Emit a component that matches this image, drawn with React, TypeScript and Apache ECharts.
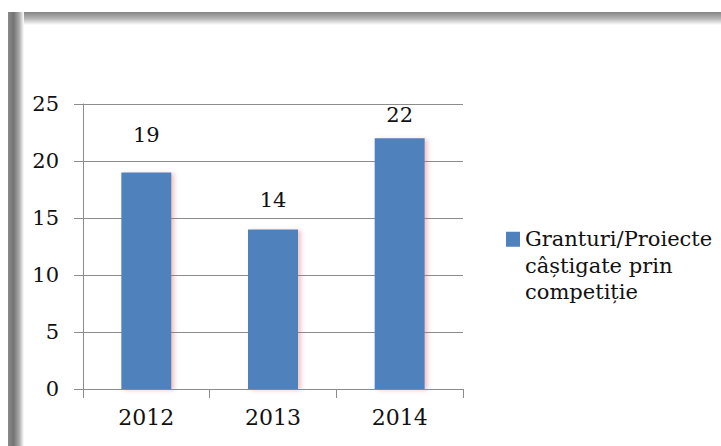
import React, { useEffect, useRef } from "react";
import * as echarts from "echarts";

const categories = ["2012", "2013", "2014"];
const seriesName = "Granturi/Proiecte\ncâștigate prin\ncompetiție";
const values = [19, 14, 22];
const labelDistances = [27, 19, 13];

const FONT = "'DejaVu Serif', serif";

export default function App() {
  const ref = useRef<HTMLDivElement>(null);
  useEffect(() => {
    if (!ref.current) return;
    const chart = echarts.init(ref.current, null, { renderer: "svg" });
    chart.setOption({
      animation: false,
      backgroundColor: "#ffffff",
      textStyle: { fontFamily: FONT },
      grid: { left: 83, right: 258, top: 104, bottom: 57, containLabel: false },
      xAxis: {
        type: "category",
        data: categories,
        axisLine: { show: true, lineStyle: { color: "#8c8c8c", width: 1 } },
        axisTick: { show: true, length: 9, lineStyle: { color: "#8c8c8c" } },
        axisLabel: { color: "#111", fontFamily: FONT, fontSize: 22, margin: 17 },
      },
      yAxis: {
        type: "value",
        min: 0,
        max: 25,
        interval: 5,
        axisLine: { show: true, lineStyle: { color: "#8c8c8c", width: 1 } },
        axisTick: { show: true, length: 9, lineStyle: { color: "#8c8c8c" } },
        axisLabel: { color: "#111", fontFamily: FONT, fontSize: 21, margin: 24 },
        splitLine: { show: true, lineStyle: { color: "#8c8c8c", width: 1 } },
      },
      legend: {
        show: true,
        orient: "vertical",
        left: 506,
        top: 173,
        padding: 0,
        itemWidth: 14,
        itemHeight: 15,
        icon: "rect",
        data: [seriesName],
        formatter: (name: string) => "\n\n" + name,
        textStyle: {
          fontFamily: FONT,
          fontSize: 21,
          color: "#111",
          lineHeight: 26.5,
        },
      },
      series: [
        {
          name: seriesName,
          type: "bar",
          barWidth: 50,
          data: values.map((v, i) => ({
            value: v,
            label: { distance: labelDistances[i] },
          })),
          itemStyle: {
            color: "#4f81bd",
            shadowColor: "rgba(210,90,90,0.35)",
            shadowBlur: 4,
            shadowOffsetX: 3,
            shadowOffsetY: 1,
          },
          label: {
            show: true,
            position: "top",
            fontFamily: FONT,
            fontSize: 21,
            color: "#111",
          },
        },
      ],
      graphic: [
        {
          type: "rect",
          silent: true,
          shape: { x: 8, y: 12, width: 713, height: 13 },
          style: {
            fill: new echarts.graphic.LinearGradient(0, 0, 0, 1, [
              { offset: 0, color: "#858585" },
              { offset: 0.5, color: "#b5b5b5" },
              { offset: 1, color: "#ffffff" },
            ]),
          },
        },
        {
          type: "rect",
          silent: true,
          shape: { x: 8, y: 12, width: 16, height: 434 },
          style: {
            fill: new echarts.graphic.LinearGradient(0, 0, 1, 0, [
              { offset: 0, color: "#8a8a8a" },
              { offset: 0.35, color: "#747474" },
              { offset: 0.7, color: "#aaaaaa" },
              { offset: 1, color: "#ffffff" },
            ]),
          },
        },
      ],
    });
    return () => chart.dispose();
  }, []);
  return (
    <div
      ref={ref}
      style={{ position: "fixed", left: 0, top: 0, width: 721, height: 446, background: "#fff" }}
    />
  );
}
